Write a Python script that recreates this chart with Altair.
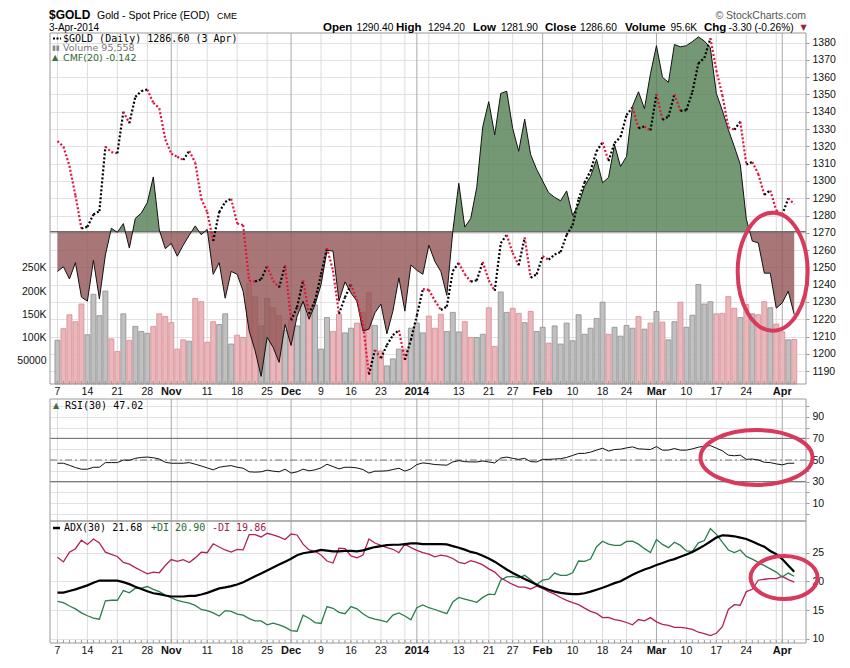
import altair as alt
import pandas as pd

# ---------------- data ----------------
holidays = ["2013-11-28", "2013-12-25", "2014-01-01", "2014-01-20", "2014-02-17"]
days = [d.strftime("%Y-%m-%d") for d in pd.bdate_range("2013-10-07", "2014-04-03")
        if d.strftime("%Y-%m-%d") not in holidays]

price = [1323.0, 1319.8, 1308.7, 1291.6, 1272.5, 1273.5, 1280.6, 1282.5, 1319.8, 1316.7,
         1316.0, 1340.0, 1333.4, 1348.6, 1352.0, 1352.8, 1345.2, 1342.0, 1324.0, 1315.8,
         1314.0, 1312.1, 1317.3, 1310.6, 1289.7, 1282.0, 1265.3, 1282.0, 1287.8, 1289.7,
         1275.4, 1274.5, 1242.2, 1241.8, 1243.1, 1250.7, 1242.2, 1238.4, 1251.3, 1219.4,
         1227.0, 1242.5, 1223.1, 1230.8, 1246.0, 1261.2, 1248.1, 1223.1, 1232.7, 1240.2,
         1230.8, 1217.4, 1188.0, 1202.2, 1197.5, 1205.1, 1210.8, 1213.7, 1196.5, 1208.0,
         1222.2, 1237.4, 1237.0, 1230.8, 1225.4, 1227.3, 1247.9, 1252.6, 1246.0, 1241.8,
         1242.5, 1253.2, 1242.5, 1236.5, 1264.0, 1268.8, 1258.3, 1251.3, 1267.3, 1244.0,
         1246.0, 1256.4, 1254.5, 1257.4, 1258.9, 1268.8, 1274.4, 1289.6, 1299.1, 1305.8,
         1317.2, 1322.3, 1311.5, 1322.0, 1325.4, 1338.1, 1342.5, 1330.5, 1331.5, 1329.2,
         1350.1, 1335.3, 1337.2, 1350.1, 1340.5, 1341.0, 1351.5, 1368.0, 1371.1, 1382.5,
         1363.8, 1349.6, 1331.1, 1329.6, 1334.3, 1309.5, 1311.0, 1304.0, 1292.0, 1294.5,
         1283.0, 1280.5, 1289.9, 1286.6]

volume_k = [94, 119, 149, 134, 172, 106, 193, 147, 200, 97,
            70, 151, 94, 124, 113, 109, 124, 151, 145, 132,
            75, 95, 92, 184, 177, 90, 134, 128, 151, 86,
            105, 100, 216, 188, 125, 184, 164, 147, 115, 137,
            125, 173, 150, 170, 75, 143, 113, 150, 110, 120,
            131, 154, 196, 126, 71, 39, 54, 75, 75, 120,
            131, 110, 146, 120, 150, 113, 154, 112, 134, 100,
            100, 107, 164, 81, 198, 154, 163, 152, 132, 156,
            113, 122, 88, 125, 86, 131, 93, 149, 107, 120,
            141, 176, 107, 122, 103, 126, 120, 145, 118, 131,
            156, 133, 95, 134, 176, 122, 148, 214, 172, 177,
            151, 152, 188, 163, 143, 171, 151, 149, 177, 164,
            129, 112, 95, 95.558]

cmf = [-0.068, -0.060, -0.081, -0.053, -0.112, -0.119, -0.049, -0.115, -0.040, 0.006,
       -0.001, 0.014, -0.028, 0.023, 0.032, 0.050, 0.094, 0.003, -0.029, -0.020,
       -0.042, -0.023, -0.006, 0.010, -0.005, 0.004, -0.073, -0.053, -0.114, -0.068,
       -0.073, -0.102, -0.170, -0.204, -0.248, -0.181, -0.198, -0.224, -0.159, -0.195,
       -0.145, -0.119, -0.150, -0.125, -0.091, -0.032, -0.033, -0.119, -0.086, -0.105,
       -0.119, -0.170, -0.167, -0.139, -0.124, -0.175, -0.136, -0.079, -0.136, -0.057,
       -0.066, -0.073, -0.023, -0.051, -0.068, -0.109, 0.001, 0.083, 0.008, 0.023,
       0.076, 0.180, 0.223, 0.166, 0.237, 0.241, 0.177, 0.138, 0.193, 0.132,
       0.107, 0.087, 0.067, 0.059, 0.053, 0.070, 0.028, 0.047, 0.078, 0.095,
       0.124, 0.084, 0.093, 0.149, 0.112, 0.129, 0.215, 0.240, 0.211, 0.271,
       0.319, 0.265, 0.256, 0.321, 0.317, 0.319, 0.326, 0.334, 0.327, 0.315,
       0.237, 0.208, 0.175, 0.146, 0.115, 0.022, -0.016, -0.019, -0.071, -0.071,
       -0.131, -0.122, -0.102, -0.142]

rsi = [47.0, 47.0, 45.1, 43.0, 41.5, 41.5, 43.3, 43.3, 47.6, 47.6,
       47.6, 50.0, 49.7, 51.5, 52.4, 52.7, 52.1, 50.9, 47.9, 47.0,
       47.0, 47.0, 47.6, 46.1, 44.5, 42.7, 40.9, 43.3, 44.2, 44.8,
       43.3, 42.4, 39.1, 38.8, 39.1, 40.6, 39.7, 39.1, 41.5, 37.9,
       39.1, 41.5, 40.0, 40.9, 42.7, 46.1, 43.9, 41.8, 43.3, 43.3,
       42.7, 41.2, 37.9, 39.7, 39.7, 40.0, 41.2, 42.4, 39.7, 41.8,
       45.8, 47.3, 46.7, 45.8, 45.5, 45.2, 48.2, 49.4, 48.5, 48.2,
       48.2, 49.1, 48.2, 47.3, 51.8, 52.7, 51.5, 50.6, 51.5, 48.5,
       48.2, 50.6, 50.6, 50.9, 51.2, 52.4, 54.2, 56.1, 56.1, 57.3,
       59.1, 60.9, 58.2, 59.7, 60.0, 61.2, 62.1, 60.3, 60.0, 59.7,
       62.4, 59.1, 59.1, 60.6, 59.1, 59.1, 60.3, 61.8, 62.7, 63.3,
       60.9, 58.5, 54.5, 53.9, 54.5, 50.6, 50.9, 50.0, 47.9, 47.6,
       46.4, 45.5, 47.0, 47.02]

adx = [18.04, 18.04, 18.33, 18.6, 18.95, 19.3, 19.75, 20.14, 20.14, 20.14,
       20.14, 19.86, 19.52, 19.07, 18.67, 18.27, 17.93, 17.76, 17.53, 17.36,
       17.36, 17.36, 17.47, 17.47, 17.7, 17.99, 18.38, 18.78, 18.95, 19.18,
       19.46, 19.86, 20.37, 20.88, 21.39, 21.9, 22.42, 22.93, 23.44, 23.95,
       24.57, 24.91, 25.08, 25.25, 25.48, 25.37, 25.25, 25.25, 25.31, 25.31,
       25.25, 25.42, 25.71, 25.99, 26.16, 26.33, 26.39, 26.39, 26.5, 26.62,
       26.62, 26.5, 26.5, 26.5, 26.5, 26.45, 26.16, 25.88, 25.54, 25.14,
       24.91, 24.46, 24.0, 23.44, 22.76, 22.08, 21.45, 20.94, 20.43, 19.92,
       19.41, 18.95, 18.55, 18.21, 17.99, 17.87, 17.76, 17.76, 17.93, 18.21,
       18.55, 18.9, 19.29, 19.69, 20.03, 20.6, 21.17, 21.62, 22.08, 22.42,
       22.87, 23.21, 23.61, 23.89, 24.29, 24.69, 25.14, 25.71, 26.28, 26.96,
       27.64, 28.04, 27.98, 27.87, 27.64, 27.41, 26.96, 26.5, 26.05, 25.31,
       24.74, 23.89, 22.76, 21.68]

plus_di = [16.5, 16.3, 15.7, 15.2, 14.5, 14.0, 13.6, 13.4, 16.6, 16.7,
           16.7, 18.4, 18.0, 18.8, 18.8, 19.1, 18.6, 18.2, 17.6, 17.1,
           16.7, 16.4, 16.2, 15.8, 15.1, 14.9, 14.5, 13.95, 14.9, 14.75,
           14.3, 14.1, 13.5, 13.1, 13.1, 12.4, 12.7, 12.4, 12.0, 11.4,
           11.3, 14.1, 13.56, 12.8, 12.65, 15.6, 15.3, 14.6, 14.35, 15.6,
           15.2, 14.35, 13.7, 13.4, 13.2, 12.9, 14.1, 14.5, 13.95, 13.3,
           15.4, 15.9, 15.4, 15.09, 14.7, 14.35, 16.4, 17.2, 16.9, 16.62,
           16.34, 17.2, 17.76, 17.7, 20.2, 20.77, 20.88, 20.6, 21.05, 20.26,
           19.46, 20.2, 20.37, 21.45, 21.05, 21.05, 21.5, 23.55, 23.5, 23.89,
           26.05, 27.02, 26.5, 26.28, 26.28, 26.96, 27.02, 26.5, 25.71, 25.03,
           27.3, 26.45, 25.88, 26.84, 26.28, 25.31, 25.25, 26.73, 27.13, 29.23,
           28.21, 26.84, 25.48, 25.03, 25.48, 24.35, 23.89, 23.32, 22.76, 22.19,
           21.62, 20.77, 21.45, 20.90]

minus_di = [24.2, 23.4, 25.1, 25.7, 27.2, 26.45, 27.4, 26.7, 25.1, 24.7,
            24.35, 23.3, 23.0, 22.4, 21.85, 21.3, 21.6, 21.5, 22.76, 23.8,
            23.5, 23.8, 23.3, 24.1, 25.1, 25.0, 26.56, 26.0, 25.48, 25.1,
            25.6, 25.5, 28.15, 28.15, 27.75, 28.4, 28.1, 27.75, 27.3, 28.26,
            28.1, 26.5, 25.5, 25.25, 24.6, 23.55, 23.2, 25.8, 25.7, 24.46,
            24.1, 24.6, 27.4, 26.7, 26.3, 25.9, 25.6, 25.0, 26.5, 25.9,
            25.4, 25.0, 24.74, 24.29, 24.57, 24.4, 24.0, 23.32, 23.1, 23.61,
            23.32, 22.87, 22.19, 21.62, 20.6, 20.03, 19.46, 19.0, 19.0, 18.67,
            19.18, 18.78, 18.21, 17.76, 17.19, 16.68, 16.28, 15.94, 15.32, 14.75,
            14.41, 13.67, 13.73, 13.33, 13.16, 12.82, 12.42, 13.33, 13.1, 13.67,
            12.93, 12.48, 12.31, 11.97, 11.97, 11.85, 11.63, 11.12, 10.89, 10.55,
            10.94, 12.08, 15.09, 15.94, 15.83, 18.21, 18.61, 20.2, 20.37, 20.48,
            20.48, 20.88, 20.31, 19.86]

tick_idx = [0, 5, 10, 15, 19, 25, 30, 35, 39, 44, 49, 54, 60, 67, 72, 76, 81, 86, 91, 95,
            100, 105, 110, 115, 121]
tick_lab = ["7", "14", "21", "28", "Nov", "11", "18", "25", "Dec", "9", "16", "23", "2014",
            "13", "21", "27", "Feb", "10", "18", "24", "Mar", "10", "17", "24", "Apr"]
grid_idx = [0, 5, 10, 15, 19, 20, 25, 30, 35, 39, 44, 49, 54, 58, 60, 62, 67, 72, 76, 81,
            86, 91, 95, 100, 105, 110, 115, 120, 121]
month_idx = [19, 39, 60, 81, 100, 121]

# annotation ellipses (centre in data units)
ell_main = (119.4, 1247.5)
ell_rsi = (116.7, 52.3)
ell_adx = (121.3, 20.66)

# ---------------- tables ----------------
n = len(price)
df = pd.DataFrame({"i": list(range(n)), "date": days, "price": price,
                   "vol": [v * 1000 for v in volume_k], "cmf": cmf, "rsi": rsi,
                   "adx": adx, "pdi": plus_di, "mdi": minus_di})
df["up"] = [True] + [price[k] >= price[k - 1] for k in range(1, n)]
seg = pd.DataFrame({"i0": list(range(n - 1)), "i1": list(range(1, n)),
                    "p0": price[:-1], "p1": price[1:],
                    "up": [price[k] >= price[k - 1] for k in range(1, n)]})
ticks = pd.DataFrame({"i": tick_idx, "lab": tick_lab,
                      "m": [1 if t in month_idx else 0 for t in tick_idx]})
grid = pd.DataFrame({"i": grid_idx, "m": [1 if g in month_idx else 0 for g in grid_idx]})
one = pd.DataFrame({"a": [0]})

# ---------------- geometry ----------------
W, H = 756, 610
MT, MB = 0, 351
RT, RB = 366, 488
AT, AB = 488, 610
MID_LAB, BOT_LAB = 359, 618

SANS = "Liberation Sans"
MONO = "DejaVu Sans Mono"

xs = alt.Scale(domain=[-0.412, 124.13], nice=False, zero=False)
ps = alt.Scale(domain=[1182.57, 1385.55], range=[MB, MT], nice=False, zero=False)
vs = alt.Scale(domain=[0, 755000], range=[MB, MT], nice=False, zero=False)
cs = alt.Scale(domain=[-0.261, 0.3407], range=[MB, MT], nice=False, zero=False)
rs = alt.Scale(domain=[-6.36, 106.36], range=[RB, RT], nice=False, zero=False)
ads = alt.Scale(domain=[9.24, 30.54], range=[AB, AT], nice=False, zero=False)


def X(f):
    return alt.X(f, type="quantitative", scale=xs, axis=None)


def right_axis(vals, expr=None):
    kw = dict(orient="right", values=vals, grid=True, gridColor="#e2e2e2", domain=False,
              ticks=True, tickSize=3, tickColor="#999999", labelPadding=3, format="d",
              labelFont=SANS, labelFontSize=10.5, labelColor="#111111",
              labelOverlap=False, title=None)
    if expr:
        kw["labelExpr"] = expr
    return alt.Axis(**kw)


def txt(s, x, y, size=11, weight="normal", color="#000000", font=SANS, align="left",
        baseline="alphabetic"):
    return alt.Chart(one).mark_text(text=s, align=align, baseline=baseline, fontSize=size,
                                    fontWeight=weight, color=color, font=font).encode(
        x=alt.value(x), y=alt.value(y))


layers = []

# vertical grid lines per panel
for top, bot in [(MT, MB), (RT, RB), (AT, AB)]:
    layers.append(alt.Chart(grid).mark_rule(strokeWidth=1).encode(
        x=X("i"), y=alt.value(top), y2=alt.value(bot),
        color=alt.condition("datum.m == 1", alt.value("#a9a9a9"), alt.value("#dcdcdc"))))

# volume bars
layers.append(alt.Chart(df).transform_filter("datum.up").mark_bar(
    size=5, fill="#c0c0c0", stroke="#8e8e8e", strokeWidth=0.8).encode(
    x=X("i"),
    y=alt.Y("vol:Q", scale=vs, axis=alt.Axis(
        orient="left", values=[50000, 100000, 150000, 200000, 250000], grid=False,
        domain=False, ticks=False, labelPadding=4, labelFont=SANS, labelFontSize=10.5,
        labelColor="#111111", labelOverlap=False, title=None,
        labelExpr="datum.value == 50000 ? '50000' : (datum.value / 1000) + 'K'")),
    y2=alt.datum(0)))
layers.append(alt.Chart(df).transform_filter("!datum.up").mark_bar(
    size=5, fill="#e9b8bc", stroke="#d98991", strokeWidth=0.8).encode(
    x=X("i"), y=alt.Y("vol:Q", scale=vs, axis=None), y2=alt.datum(0)))

# CMF area with a hard colour change at zero
cmax, cmin = max(cmf), min(cmf)
frac = cmax / (cmax - cmin)
GREEN, RED = "#507e50", "#925454"
grad = alt.LinearGradient(gradient="linear", x1=0, x2=0, y1=0, y2=1, stops=[
    alt.GradientStop(color=GREEN, offset=0), alt.GradientStop(color=GREEN, offset=frac),
    alt.GradientStop(color=RED, offset=frac), alt.GradientStop(color=RED, offset=1)])
layers.append(alt.Chart(df).mark_area(fill=grad, fillOpacity=0.8).encode(
    x=X("i"), y=alt.Y("cmf:Q", scale=cs, axis=None), y2=alt.datum(0)))
layers.append(alt.Chart(pd.DataFrame({"z": [0]})).mark_rule(color="#6e6e6e", strokeWidth=1.5).encode(
    x=alt.value(0), x2=alt.value(W), y=alt.Y("z:Q", scale=cs, axis=None)))
layers.append(alt.Chart(df).mark_line(color="#111111", strokeWidth=1).encode(
    x=X("i"), y=alt.Y("cmf:Q", scale=cs, axis=None)))

# price dotted line, black up / red down
layers.append(alt.Chart(seg).mark_rule(strokeWidth=2.2, strokeDash=[2, 2]).encode(
    x=X("i0"), x2="i1:Q",
    y=alt.Y("p0:Q", scale=ps, axis=right_axis(list(range(1190, 1381, 10)))),
    y2="p1:Q",
    color=alt.condition("datum.up", alt.value("#000000"), alt.value("#e3143c"))))

# RSI panel
layers.append(alt.Chart(pd.DataFrame({"lv": [30, 70]})).mark_rule(color="#666666", strokeWidth=1).encode(
    x=alt.value(0), x2=alt.value(W), y=alt.Y("lv:Q", scale=rs, axis=None)))
layers.append(alt.Chart(pd.DataFrame({"lv": [50]})).mark_rule(
    color="#777777", strokeWidth=1, strokeDash=[7, 3, 2, 3]).encode(
    x=alt.value(0), x2=alt.value(W), y=alt.Y("lv:Q", scale=rs, axis=None)))
layers.append(alt.Chart(df).mark_line(color="#111111", strokeWidth=1).encode(
    x=X("i"), y=alt.Y("rsi:Q", scale=rs, axis=right_axis(
        list(range(0, 101, 10)), "datum.value % 20 == 10 ? datum.label : ''"))))

# ADX panel
layers.append(alt.Chart(df).mark_line(color="#b3205a", strokeWidth=1.3).encode(
    x=X("i"), y=alt.Y("mdi:Q", scale=ads, axis=None)))
layers.append(alt.Chart(df).mark_line(color="#2a7d4c", strokeWidth=1.3).encode(
    x=X("i"), y=alt.Y("pdi:Q", scale=ads, axis=None)))
layers.append(alt.Chart(df).mark_line(color="#000000", strokeWidth=2.2).encode(
    x=X("i"), y=alt.Y("adx:Q", scale=ads, axis=right_axis([10, 15, 20, 25]))))

# minor daily ticks
for bot in [MB, AB]:
    layers.append(alt.Chart(df).mark_rule(color="#999999", strokeWidth=1).encode(
        x=X("i"), y=alt.value(bot - 3), y2=alt.value(bot)))

# panel frames
for top, bot in [(MT, MB), (RT, RB), (AT, AB)]:
    layers.append(alt.Chart(one).mark_rect(fill="transparent", stroke="#9a9a9a", strokeWidth=1).encode(
        x=alt.value(0), x2=alt.value(W), y=alt.value(top), y2=alt.value(bot)))

# date labels (between main and RSI, and below ADX)
for yy in [MID_LAB, BOT_LAB]:
    layers.append(alt.Chart(ticks).transform_filter("datum.m == 0").mark_text(
        font=SANS, fontSize=10.5, color="#111111", baseline="middle").encode(
        x=X("i"), y=alt.value(yy), text="lab:N"))
    layers.append(alt.Chart(ticks).transform_filter("datum.m == 1").mark_text(
        font=SANS, fontSize=11, fontWeight="bold", color="#111111", baseline="middle").encode(
        x=X("i"), y=alt.value(yy), text="lab:N"))

# header
ROW1, ROW2 = -13.7, -2.1
layers += [
    txt("$GOLD", -1, ROW1, size=12, weight="bold"),
    txt("Gold - Spot Price (EOD)", 47, ROW1, size=10.5),
    txt("CME", 167, ROW1, size=9),
    txt("© StockCharts.com", W, ROW1, size=10.5, color="#555555", align="right"),
    txt("3-Apr-2014", -1, ROW2, size=10),
    txt("Open", 273, ROW2, size=11.5, weight="bold"),
    txt("1290.40", 306.5, ROW2, size=10.2),
    txt("High", 346, ROW2, size=11.5, weight="bold"),
    txt("1294.20", 378, ROW2, size=10.2),
    txt("Low", 423, ROW2, size=11.5, weight="bold"),
    txt("1281.90", 451, ROW2, size=10.2),
    txt("Close", 495, ROW2, size=11.5, weight="bold"),
    txt("1286.60", 530, ROW2, size=10.2),
    txt("Volume", 575, ROW2, size=11.5, weight="bold"),
    txt("95.6K", 620.5, ROW2, size=10.2),
    txt("Chg", 654, ROW2, size=11.5, weight="bold"),
    txt("-3.30 (-0.26%)", 678.5, ROW2, size=10.2),
    txt("▼", 750.5, ROW2 - 1, size=8, color="#9b1c3c", font="DejaVu Sans"),
]

# panel legends
layers.append(alt.Chart(one).mark_rule(color="#000000", strokeWidth=2, strokeDash=[2, 1.5]).encode(
    x=alt.value(3), x2=alt.value(11), y=alt.value(5.5)))
layers += [
    txt("$GOLD (Daily) 1286.60 (3 Apr)", 13, 5.5, size=10, font=MONO, baseline="middle"),
    txt("▮▮", 2, 15, size=7, color="#8a8a8a", font="DejaVu Sans", baseline="middle"),
    txt("Volume 95,558", 13, 15, size=9.5, color="#777777", font="DejaVu Sans", baseline="middle"),
    txt("▲", 2, 24.5, size=8, color="#3f6f3f", font="DejaVu Sans", baseline="middle"),
    txt("CMF(20) -0.142", 13, 24.5, size=9.5, color="#2d6a2d", font="DejaVu Sans", baseline="middle"),
    txt("▲", 3, RT + 7, size=8, color="#3f6f3f", font="DejaVu Sans", baseline="middle"),
    txt("RSI(30) 47.02", 15, RT + 7, size=10, font=MONO, baseline="middle"),
    txt("ADX(30) 21.68", 14, AT + 7, size=10, font=MONO, baseline="middle"),
    txt("+DI 20.90", 101, AT + 7, size=10, font=MONO, color="#1d6b32", baseline="middle"),
    txt("-DI 19.86", 162, AT + 7, size=10, font=MONO, color="#9e1b4a", baseline="middle"),
]
layers.append(alt.Chart(one).mark_rule(color="#000000", strokeWidth=2.5).encode(
    x=alt.value(3), x2=alt.value(10), y=alt.value(AT + 7)))

# annotation ellipses
ELL = "#d83a5e"
for (cx, cy), sc, path, size in [
        (ell_main, ps, "M -0.593 0 A 0.593 1 0 1 1 0.593 0 A 0.593 1 0 1 1 -0.593 0 Z", 13924),
        (ell_rsi, rs, "M -1 0 A 1 0.49 0 1 1 1 0 A 1 0.49 0 1 1 -1 0 Z", 12544),
        (ell_adx, ads, "M -1 0 A 1 0.642 0 1 1 1 0 A 1 0.642 0 1 1 -1 0 Z", 4489)]:
    layers.append(alt.Chart(pd.DataFrame({"ex": [cx], "ey": [cy]})).mark_point(
        shape=path, size=size, filled=False, stroke=ELL, strokeWidth=4, opacity=1).encode(
        x=X("ex"), y=alt.Y("ey:Q", scale=sc, axis=None)))

chart = alt.layer(*layers).resolve_scale(y="independent").properties(
    width=W, height=H,
    autosize=alt.AutoSizeParams(type="none"),
    padding={"left": 42, "top": 25, "right": 36, "bottom": 13},
    background="#ffffff",
).configure_view(strokeWidth=0)

chart.save("out.html", embed_options={"renderer": "svg", "actions": False})
